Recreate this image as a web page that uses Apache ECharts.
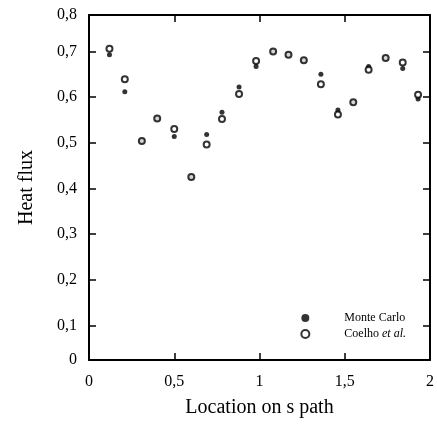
<!DOCTYPE html>
<html>
<head>
<meta charset="utf-8">
<script src="https://cdn.jsdelivr.net/npm/echarts@6/dist/echarts.min.js"></script>
<style>
  html, body { margin: 0; padding: 0; background: #fff; }
  #chart { width: 437px; height: 424px; }
</style>
</head>
<body>
<div id="chart"></div>
<script>
// location on s path
const locations = [0.12, 0.21, 0.31, 0.40, 0.50, 0.60, 0.69, 0.78, 0.88, 0.98,
  1.08, 1.17, 1.26, 1.36, 1.46, 1.55, 1.64, 1.74, 1.84, 1.93]
// Monte Carlo heat flux
const monteCarlo = [0.693, 0.612, 0.504, 0.553, 0.514, 0.425, 0.518, 0.567, 0.622, 0.667,
  0.700, 0.693, 0.681, 0.650, 0.572, 0.589, 0.667, 0.686, 0.663, 0.596]
// Coelho et al.
const coelho = [0.706, 0.639, 0.504, 0.553, 0.530, 0.425, 0.496, 0.552, 0.607, 0.679,
  0.700, 0.693, 0.681, 0.628, 0.562, 0.589, 0.660, 0.686, 0.676, 0.605]

const yTicks = [0.1, 0.2, 0.3, 0.4, 0.5, 0.6, 0.7]
const xTicks = [0.5, 1, 1.5]
// frame edges as drawn in the figure (labelled 0 and 0,8)
const yMin = 0.024
const yMax = 0.78

const font = 'Liberation Serif'
const comma = v => String(v).replace('.', ',')

const myChart = echarts.init(document.getElementById('chart'))

const lineStyle = { color: '#000', width: 2 }
const tickStyle = { color: '#000', width: 1.5 }

const options = {
  animation: false,
  backgroundColor: '#fff',
  textStyle: { fontFamily: font, color: '#000' },
  grid: { left: 89, top: 15, right: 5, bottom: 64 },
  legend: {
    orient: 'vertical',
    right: 26,
    bottom: 79,
    itemWidth: 8,
    itemHeight: 8,
    itemGap: 4,
    textStyle: {
      fontFamily: font,
      fontSize: 12,
      color: '#000',
      rich: {
        g: { width: 30 },
        t: { fontFamily: font, fontSize: 12 },
        it: { fontStyle: 'italic', fontFamily: font, fontSize: 12 }
      }
    },
    formatter: name => name === 'Coelho' ? '{g|}{t|Coelho }{it|et al.}' : '{g|}{t|' + name + '}',
    data: ['Monte Carlo', 'Coelho']
  },
  xAxis: [{
    type: 'value',
    min: 0,
    max: 2,
    interval: 0.5,
    name: 'Location on s path',
    nameLocation: 'middle',
    nameGap: 38,
    nameTextStyle: { fontFamily: font, fontSize: 20, color: '#000' },
    axisLine: { onZero: false, lineStyle },
    axisTick: { inside: true, length: 7, lineStyle: tickStyle },
    axisLabel: { fontFamily: font, fontSize: 16, color: '#000', margin: 14, formatter: comma },
    splitLine: { show: false }
  }, {
    type: 'value',
    position: 'top',
    min: 0,
    max: 2,
    interval: 0.5,
    axisLine: { show: true, onZero: false, lineStyle },
    axisTick: { inside: true, length: 7, customValues: xTicks, lineStyle: tickStyle },
    axisLabel: { show: false },
    splitLine: { show: false }
  }],
  yAxis: [{
    type: 'value',
    min: yMin,
    max: yMax,
    name: 'Heat flux',
    nameLocation: 'middle',
    nameRotate: 90,
    nameGap: 52,
    nameTextStyle: { fontFamily: font, fontSize: 20, color: '#000' },
    axisLine: { show: true, onZero: false, lineStyle },
    axisTick: { inside: true, length: 7, customValues: yTicks, lineStyle: tickStyle },
    axisLabel: {
      fontFamily: font, fontSize: 16, color: '#000', margin: 12,
      customValues: [yMin].concat(yTicks, [yMax]),
      formatter: v => v < 0.05 ? '0' : (v > 0.75 ? '0,8' : comma(Math.round(v * 10) / 10))
    },
    splitLine: { show: false }
  }, {
    type: 'value',
    position: 'right',
    min: yMin,
    max: yMax,
    axisLine: { show: true, onZero: false, lineStyle },
    axisTick: { inside: true, length: 7, customValues: yTicks, lineStyle: tickStyle },
    axisLabel: { show: false },
    splitLine: { show: false }
  }],
  series: [{
    name: 'Monte Carlo',
    type: 'scatter',
    symbol: 'circle',
    symbolSize: 5,
    itemStyle: { color: '#000' },
    z: 2,
    data: locations.map((x, i) => [x, monteCarlo[i]])
  }, {
    name: 'Coelho',
    type: 'scatter',
    symbol: 'circle',
    symbolSize: 6,
    itemStyle: { color: '#fff', borderColor: '#000', borderWidth: 2 },
    z: 3,
    data: locations.map((x, i) => [x, coelho[i]])
  }]
}

myChart.setOption(options)
</script>
</body>
</html>
